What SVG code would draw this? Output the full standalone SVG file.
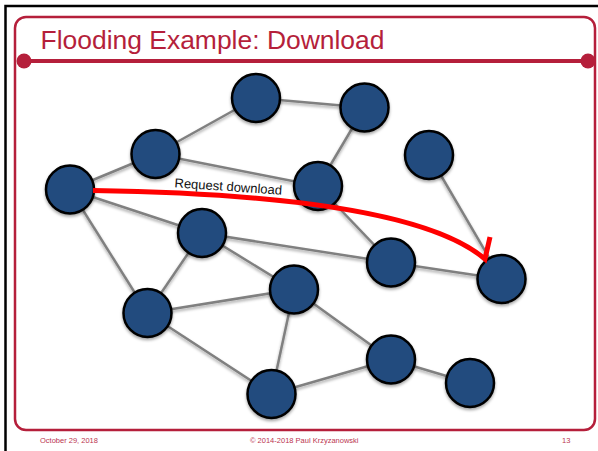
<svg xmlns="http://www.w3.org/2000/svg" width="598" height="451" viewBox="0 0 598 451">
<style>
.node{fill:#214b7e;stroke:#000;stroke-width:2.5}
.edge{stroke:#808080;stroke-width:2.5;fill:none}
.title{font-family:"Liberation Sans",Arial,sans-serif;fill:#b51f3b}
.foot{font-family:"Liberation Sans",Arial,sans-serif;fill:#bb3550;font-size:7.5px}
.red{stroke:#ff0000;stroke-width:5;fill:none;stroke-linejoin:miter}
</style>
<defs>
<filter id="sh" x="-30%" y="-30%" width="160%" height="160%">
<feDropShadow dx="0" dy="2" stdDeviation="1.5" flood-color="#000" flood-opacity="0.35"/>
</filter>
</defs>
<rect width="598" height="451" fill="#fff"/>
<g id="frame">
<path d="M5.5 451 V6 H598" stroke="#000" stroke-width="2.5" fill="none"/>
<rect x="15" y="17" width="580" height="413" rx="11" fill="none" stroke="#b51f3b" stroke-width="2.5"/>
<line x1="24" y1="61" x2="588" y2="61" stroke="#b51f3b" stroke-width="4"/>
<circle cx="24" cy="61" r="7.5" fill="#b51f3b"/>
<circle cx="588" cy="61" r="7.5" fill="#b51f3b"/>
<text class="title" x="40.5" y="49" font-size="25.5" textLength="344" lengthAdjust="spacingAndGlyphs">Flooding Example: Download</text>
<text class="foot" x="40" y="442.5">October 29, 2018</text>
<text class="foot" x="250" y="442.5">© 2014-2018 Paul Krzyzanowski</text>
<text class="foot" x="562" y="442.5">13</text>
</g>
<g id="connectors" filter="url(#sh)">
<line class="edge" x1="70" y1="189.5" x2="155.5" y2="154"/>
<line class="edge" x1="155.5" y1="154" x2="256" y2="98"/>
<line class="edge" x1="256" y1="98" x2="364.5" y2="107.5"/>
<line class="edge" x1="155.5" y1="154" x2="318" y2="186"/>
<line class="edge" x1="364.5" y1="107.5" x2="318" y2="186"/>
<line class="edge" x1="70" y1="189.5" x2="202" y2="233"/>
<line class="edge" x1="70" y1="189.5" x2="147.5" y2="313"/>
<line class="edge" x1="318" y1="186" x2="391" y2="262.5"/>
<line class="edge" x1="202" y1="233" x2="391" y2="262.5"/>
<line class="edge" x1="202" y1="233" x2="147.5" y2="313"/>
<line class="edge" x1="202" y1="233" x2="294" y2="289.5"/>
<line class="edge" x1="147.5" y1="313" x2="294" y2="289.5"/>
<line class="edge" x1="147.5" y1="313" x2="271.5" y2="394"/>
<line class="edge" x1="294" y1="289.5" x2="271.5" y2="394"/>
<line class="edge" x1="294" y1="289.5" x2="391" y2="359.5"/>
<line class="edge" x1="391" y1="359.5" x2="271.5" y2="394"/>
<line class="edge" x1="391" y1="359.5" x2="470" y2="383"/>
<line class="edge" x1="391" y1="262.5" x2="501.5" y2="279"/>
<line class="edge" x1="429" y1="155" x2="501.5" y2="279"/>
</g>
<g filter="url(#sh)">
<g id="nA"><circle class="node" cx="70" cy="189.5" r="24"/></g>
<g id="nB"><circle class="node" cx="155.5" cy="154" r="24"/></g>
<g id="nC"><circle class="node" cx="256" cy="98" r="24"/></g>
<g id="nD"><circle class="node" cx="364.5" cy="107.5" r="24"/></g>
<g id="nE"><circle class="node" cx="318" cy="186" r="24"/></g>
<g id="nF"><circle class="node" cx="429" cy="155" r="24"/></g>
<g id="nG"><circle class="node" cx="202" cy="233" r="24"/></g>
<g id="nH"><circle class="node" cx="391" cy="262.5" r="24"/></g>
<g id="nI"><circle class="node" cx="501.5" cy="279" r="24"/></g>
<g id="nJ"><circle class="node" cx="147.5" cy="313" r="24"/></g>
<g id="nK"><circle class="node" cx="294" cy="289.5" r="24"/></g>
<g id="nL"><circle class="node" cx="391" cy="359.5" r="24"/></g>
<g id="nM"><circle class="node" cx="470" cy="383" r="24"/></g>
<g id="nN"><circle class="node" cx="271.5" cy="394" r="24"/></g>
</g>
<g id="request">
<path class="red" d="M93 190.5 C260 193 425 208 485 259 L490 237"/>
<text x="228" y="191" transform="rotate(4 228 191)" text-anchor="middle" font-family="'Liberation Sans',Arial,sans-serif" font-size="13" fill="#111">Request download</text>
</g>
</svg>
